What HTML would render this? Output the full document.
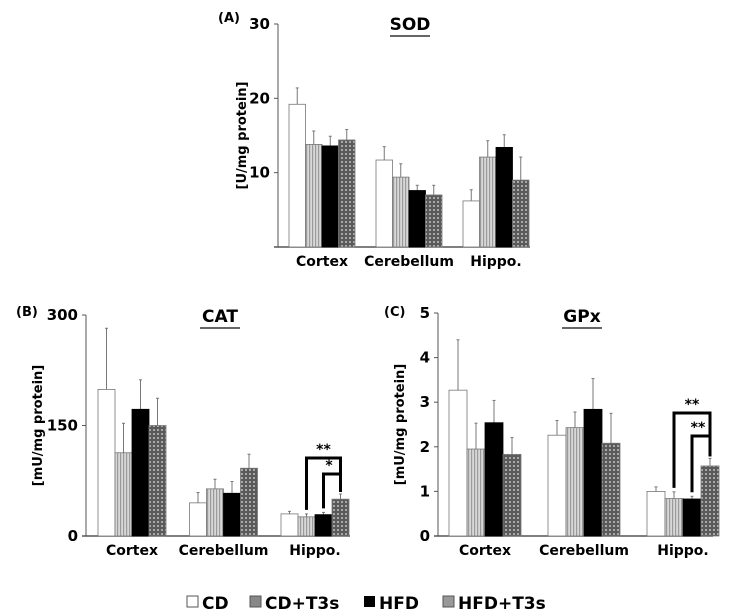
<!DOCTYPE html>
<html><head><meta charset="utf-8"><style>
html,body{margin:0;padding:0;background:#fff;}
svg{display:block;font-family:"DejaVu Sans","Liberation Sans",sans-serif;}
</style></head><body>
<svg id="fig" width="743" height="616" viewBox="0 0 743 616">
<defs>
<pattern id="pStripe" width="3" height="4" patternUnits="userSpaceOnUse"><rect width="3" height="4" fill="#d8d8d8"/><rect width="1.2" height="4" fill="#9a9a9a"/></pattern>
<pattern id="pDots" width="4" height="4" patternUnits="userSpaceOnUse"><rect width="4" height="4" fill="#5a5a5a"/><rect x="1" y="1" width="2" height="2" fill="#a8a8a8"/></pattern>
</defs>
<g id="legend" font-weight="bold" font-size="17">
<g><rect x="187" y="596" width="11" height="11" fill="#fff" stroke="#555"/><text x="202" y="609">CD</text></g>
<g><rect x="250" y="596" width="11" height="11" fill="#888" stroke="#555"/><text x="265" y="609">CD+T3s</text></g>
<g><rect x="364" y="596" width="11" height="11" fill="#000"/><text x="379" y="609">HFD</text></g>
<g><rect x="443" y="596" width="11" height="11" fill="#999" stroke="#555"/><text x="458" y="609">HFD+T3s</text></g>
</g>
</svg>
<script>
const categories = ["Cortex","Cerebellum","Hippo."];
const groups = ["CD","CD+T3s","HFD","HFD+T3s"];
const sodValues = [[19.2,13.8,13.6,14.4],[11.7,9.4,7.6,7.0],[6.2,12.1,13.4,9.0]];
const sodErrors = [[2.2,1.8,1.3,1.4],[1.8,1.8,0.7,1.3],[1.5,2.2,1.7,3.1]];
const sodTicks = [10,20,30];
const catValues = [[199,113,172,150],[45,64,58,92],[30,26,29,50]];
const catErrors = [[83,40,40,37],[14,13,16,19],[3.5,4,3,7]];
const catTicks = [0,150,300];
const gpxValues = [[3.27,1.95,2.54,1.83],[2.26,2.43,2.84,2.08],[1.0,0.84,0.83,1.57]];
const gpxErrors = [[1.13,0.58,0.5,0.38],[0.33,0.35,0.69,0.67],[0.1,0.15,0.06,0.17]];
const gpxTicks = [0,1,2,3,4,5];

const NS="http://www.w3.org/2000/svg";
const svg=document.getElementById('fig');
const fills=["#fff","url(#pStripe)","#000","url(#pDots)"];
function mk(tag,attrs,parent){const e=document.createElementNS(NS,tag);for(const k in attrs)e.setAttribute(k,attrs[k]);(parent||svg).appendChild(e);return e;}

function panel(p){
  const g=mk('g',{});
  
  
  const y=v=>p.y0-(v/p.max)*(p.y0-p.yTop);
  const ax=mk('line',{x1:p.ax,y1:p.yTop,x2:p.ax,y2:p.y0,stroke:'#555','stroke-width':1},g);
  
  
  const xa=mk('line',{x1:p.ax-4,y1:p.y0,x2:p.xEnd,y2:p.y0,stroke:'#555','stroke-width':1.5},g);
  
  
  p.ticks.forEach(t=>{
    mk('line',{x1:p.ax-4,y1:y(t),x2:p.ax,y2:y(t),stroke:'#555'},g);
    const tx=mk('text',{x:p.ax-8,y:y(t)+5,'text-anchor':'end','font-size':15,'font-weight':'bold'},g);
    tx.textContent=t;
    
    
  });
  const bw=p.bw;
  p.values.forEach((row,ci)=>{
    const gx=p.gx0+ci*p.gstep;
    row.forEach((v,bi)=>{
      const x=gx+bi*bw;
      const e=p.errors[ci][bi];
      mk('line',{x1:x+bw/2,y1:y(v+e),x2:x+bw/2,y2:y(v),stroke:'#777','stroke-width':1},g);
      mk('line',{x1:x+bw/2-1.5,y1:y(v+e),x2:x+bw/2+1.5,y2:y(v+e),stroke:'#777','stroke-width':1},g);
      const r=mk('rect',{x:x,y:y(v),width:bw,height:p.y0-y(v),fill:fills[bi],stroke:bi==2?'#000':'#777','stroke-width':0.8},g);
      
      
    });
    const cl=mk('text',{x:gx+2*bw,y:p.y0+19,'text-anchor':'middle','font-size':14,'font-weight':'bold'},g);
    cl.textContent=categories[ci];
    
    
  });
  const ti=mk('text',{x:p.tx,y:p.ty,'text-anchor':'middle','font-size':17,'font-weight':'bold'},g);
  ti.textContent=p.title;
  
  
  mk('line',{x1:p.tx-20,y1:p.ty+6,x2:p.tx+20,y2:p.ty+6,stroke:'#333','stroke-width':1.5},g);
  const pl=mk('text',{x:p.lx,y:p.ly,'font-size':13,'font-weight':'bold'},g);
  pl.textContent=p.letter;
  
  
  const yl=mk('text',{x:0,y:0,'text-anchor':'middle','font-size':13,'font-weight':'bold',transform:`translate(${p.ylx},${(p.yTop+p.y0)/2}) rotate(-90)`},g);
  yl.textContent=p.ylabel;
  
  
  (p.brackets||[]).forEach(b=>{
    const gx=p.gx0+2*p.gstep;
    const x1=gx+b.from*bw+bw/2, x2=gx+3*bw+bw/2;
    const yb=b.y;
    const yl1=y(p.values[2][b.from]+p.errors[2][b.from])-4;
    const yl2=y(p.values[2][3]+p.errors[2][3])-2;
    const pth=mk('path',{d:`M${x1},${yl1} L${x1},${yb} L${x2},${yb} L${x2},${yl2}`,fill:'none',stroke:'#000','stroke-width':3},g);
    
    
    const st=mk('text',{x:(x1+x2)/2-(b.from==2?3:0),y:yb-4,'text-anchor':'middle','font-size':14,'font-weight':'bold'},g);
    st.textContent=b.label;
    
    
  });
}
panel({name:'sod-chart',title:'SOD',letter:'(A)',ylabel:'[U/mg protein]',values:sodValues,errors:sodErrors,ticks:sodTicks,max:30,
  ax:278,yTop:24,y0:247,xEnd:530,gx0:289,gstep:87,bw:16.5,tx:410,ty:30,lx:218,ly:22,ylx:246});
panel({name:'cat-chart',title:'CAT',letter:'(B)',ylabel:'[mU/mg protein]',values:catValues,errors:catErrors,ticks:catTicks,max:300,
  ax:86,yTop:315,y0:536,xEnd:350,gx0:98,gstep:91.5,bw:17,tx:220,ty:322,lx:16,ly:316,ylx:42,
  brackets:[{from:1,y:458,label:'**'},{from:2,y:474,label:'*'}]});
panel({name:'gpx-chart',title:'GPx',letter:'(C)',ylabel:'[mU/mg protein]',values:gpxValues,errors:gpxErrors,ticks:gpxTicks,max:5,
  ax:438,yTop:313,y0:536,xEnd:713,gx0:449,gstep:99,bw:18,tx:582,ty:322,lx:384,ly:316,ylx:404,
  brackets:[{from:1,y:413,label:'**'},{from:2,y:436,label:'**'}]});
</script>
</body></html>
